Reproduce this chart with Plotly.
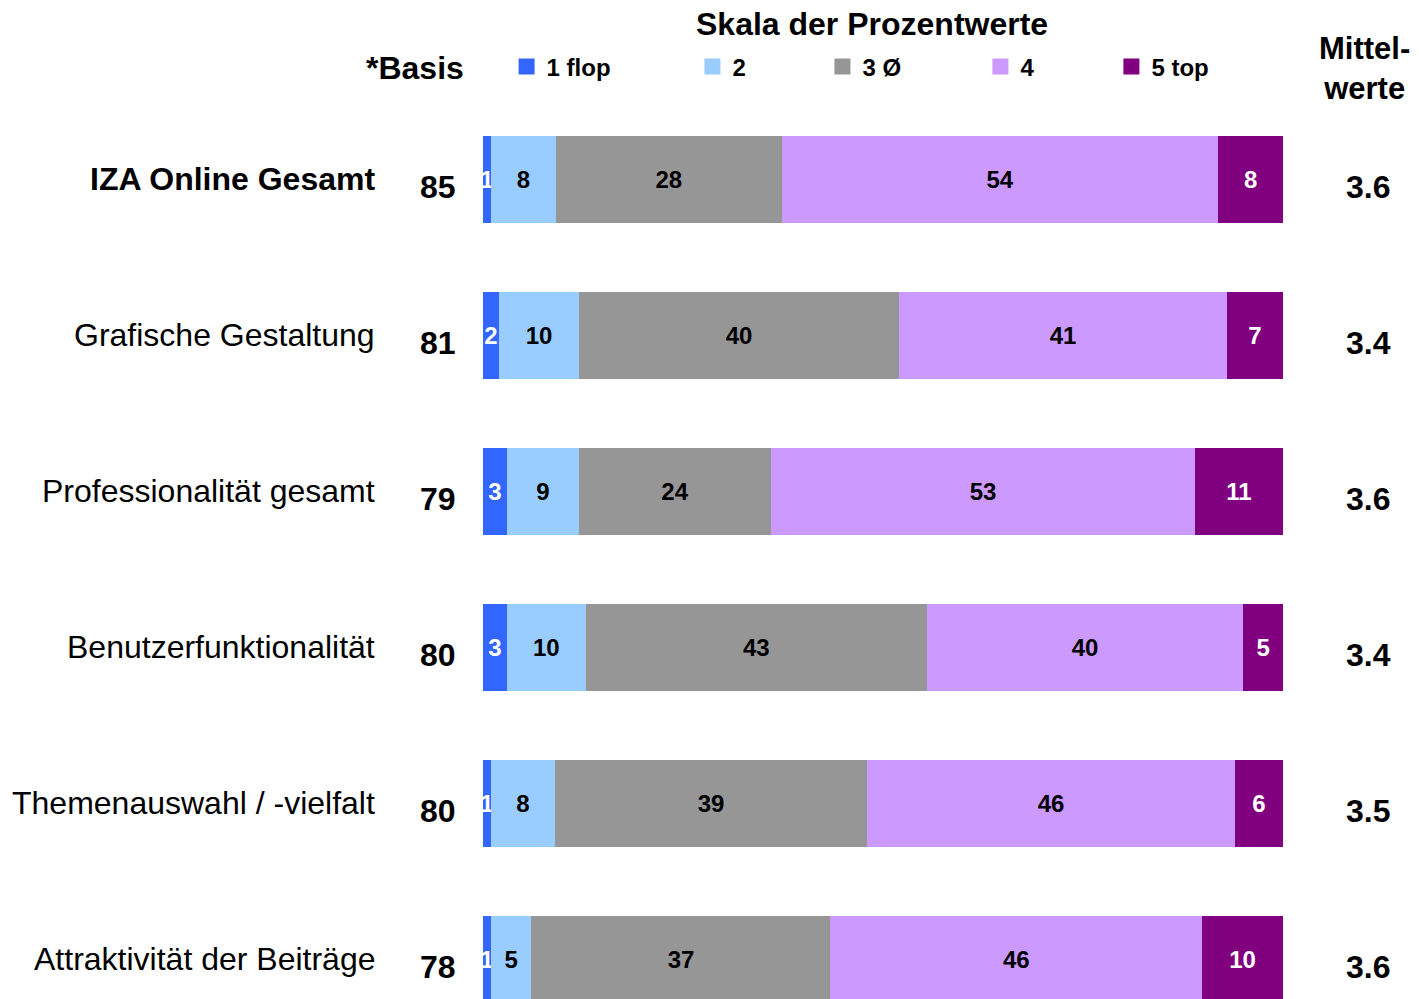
import plotly.graph_objects as go

FONT = "Liberation Sans, Arial, sans-serif"

categories = [
    "IZA Online Gesamt",
    "Grafische Gestaltung",
    "Professionalität gesamt",
    "Benutzerfunktionalität",
    "Themenauswahl / -vielfalt",
    "Attraktivität der Beiträge",
]
basis = [85, 81, 79, 80, 80, 78]
mittelwerte = [3.6, 3.4, 3.6, 3.4, 3.5, 3.6]

scale_names = ["1 flop", "2", "3 Ø", "4", "5 top"]
scale_values = [
    [1, 2, 3, 3, 1, 1],        # 1 flop
    [8, 10, 9, 10, 8, 5],      # 2
    [28, 40, 24, 43, 39, 37],  # 3 Ø
    [54, 41, 53, 40, 46, 46],  # 4
    [8, 7, 11, 5, 6, 10],      # 5 top
]
COLORS = ["#3366FF", "#99CCFF", "#969696", "#CC99FF", "#800080"]
TEXT_COLORS = ["white", "black", "black", "black", "white"]
LEGEND_X = [0.0295, 0.2618, 0.4243, 0.6218, 0.7855]   # paper x of each legend box

fig = go.Figure()
for i, (name, vals) in enumerate(zip(scale_names, scale_values)):
    fig.add_trace(go.Bar(
        x=vals, y=categories, orientation="h", name=name,
        marker=dict(color=COLORS[i], line=dict(width=0)),
        text=[str(v) for v in vals], textposition="inside", textangle=0,
        insidetextanchor="middle",
        insidetextfont=dict(family=FONT, size=24, color=TEXT_COLORS[i], weight="bold"),
        showlegend=False, legendgroup=name,
        hovertemplate="%{y}<br>" + name + ": %{text}<extra></extra>"))
    # legend proxy with a larger square symbol, one legend box per entry
    lg = "legend" if i == 0 else f"legend{i + 1}"
    fig.add_trace(go.Scatter(
        x=[None], y=[None], mode="markers", name=name, legendgroup=name,
        marker=dict(color=COLORS[i], size=16, symbol="square"),
        showlegend=True, legend=lg, hoverinfo="skip"))

ann = []
for i, (cat, b, m) in enumerate(zip(categories, basis, mittelwerte)):
    ann.append(dict(x=-0.1325, y=cat, xref="paper", yref="y", xanchor="right",
                    text=f"<b>{cat}</b>" if i == 0 else cat, showarrow=False,
                    font=dict(size=32)))
    ann.append(dict(x=-0.05625, y=cat, xref="paper", yref="y", xanchor="center",
                    yshift=-8, text=f"<b>{b}</b>", showarrow=False, font=dict(size=32)))
    ann.append(dict(x=1.10625, y=cat, xref="paper", yref="y", xanchor="center",
                    yshift=-8, text=f"<b>{m:.1f}</b>", showarrow=False, font=dict(size=32)))

ann += [
    dict(x=0.48625, y=1.0858, xref="paper", yref="paper", xanchor="center",
         yanchor="middle", text="<b>Skala der Prozentwerte</b>", showarrow=False,
         font=dict(size=32)),
    dict(x=-0.02125, y=1.0367, xref="paper", yref="paper", xanchor="right",
         yanchor="middle", text="<b>*Basis</b>", showarrow=False, font=dict(size=32)),
    dict(x=1.10125, y=1.0367, xref="paper", yref="paper", xanchor="center",
         yanchor="middle", text="<b>Mittel-<br>werte</b>", showarrow=False,
         font=dict(size=31)),
]

legends = {}
for i, lx in enumerate(LEGEND_X):
    key = "legend" if i == 0 else f"legend{i + 1}"
    legends[key] = dict(x=lx, y=1.0379, xanchor="left", yanchor="middle",
                        orientation="h", bgcolor="rgba(0,0,0,0)", borderwidth=0,
                        itemsizing="trace",
                        font=dict(family=FONT, size=24, color="black", weight="bold"))

fig.update_layout(
    width=1419, height=999,
    margin=dict(l=475, r=144, t=93, b=8, pad=0),
    barmode="stack", barnorm="percent", bargap=0.444,
    paper_bgcolor="white", plot_bgcolor="white",
    font=dict(family=FONT, color="black"),
    uniformtext=dict(minsize=24, mode="show"),
    annotations=ann,
    xaxis=dict(range=[0, 100], visible=False, fixedrange=True),
    yaxis=dict(type="category", range=[5.254, -0.503], showticklabels=False,
               showgrid=False, zeroline=False, showline=False, ticks="",
               fixedrange=True),
    **legends,
)

fig.write_html("out.html")
